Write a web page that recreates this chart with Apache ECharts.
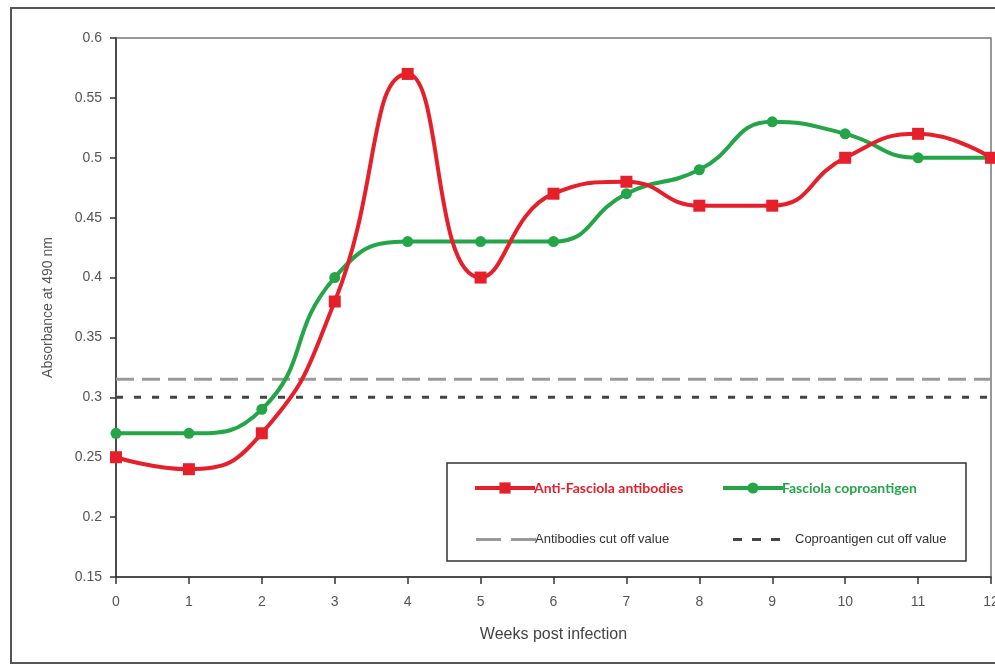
<!DOCTYPE html>
<html>
<head>
<meta charset="utf-8">
<script src="https://cdn.jsdelivr.net/npm/echarts@6/dist/echarts.min.js"></script>
<style>html,body{margin:0;padding:0;background:#fff;}#c{width:995px;height:665px;}</style>
</head>
<body>
<div id="c"></div>
<script>
var weeks = [0,1,2,3,4,5,6,7,8,9,10,11,12];
var antibodies = [0.25,0.24,0.27,0.38,0.57,0.40,0.47,0.48,0.46,0.46,0.50,0.52,0.50];
var coproantigen = [0.27,0.27,0.29,0.40,0.43,0.43,0.43,0.47,0.49,0.53,0.52,0.50,0.50];
var antibodiesCutoff = [0.315,0.315];
var coproantigenCutoff = [0.30,0.30];
var cutoffWeeks = [0,12];
var yTicks = {min:0.15,max:0.6,interval:0.05};

function pairs(xs, ys){ return xs.map(function(x,i){return [x, ys[i]];}); }

var RED = '#e5202b', GREEN = '#24a548';
var abIcon = 'path://M0,0H25V3H0Z M35,0H60V3H35Z';
var coIcon = 'path://M0,0H9V3H0Z M19,0H28V3H19Z M38,0H47V3H38Z';

function oneLegend(left, top, item, font, extra){
  return Object.assign({left:left,top:top,itemWidth:60,itemHeight:14,selectedMode:false,z:10,
    lineStyle:{width:4},
    textStyle:Object.assign({padding:[0,0,0,-6]},font),data:[item]}, extra||{});
}
var bold = {fontFamily:'Lato',fontSize:14,fontWeight:'bold'};
var plain = {fontFamily:'Liberation Sans',fontSize:13,color:'#333'};

var chart = echarts.init(document.getElementById('c'));
chart.setOption({
  animation:false,
  backgroundColor:'#fff',
  graphic:[
    {type:'rect', shape:{x:11,y:8,width:1000,height:655}, style:{fill:'none',stroke:'#555',lineWidth:2}, z:-1},
    {type:'rect', shape:{x:447,y:463,width:519,height:98}, style:{fill:'#fff',stroke:'#333',lineWidth:1.5}, z:5}
  ],
  grid:{left:116,top:38,right:4,bottom:88,containLabel:false,outerBoundsMode:'none',
        show:true,borderColor:'#777',borderWidth:1.5,backgroundColor:'transparent'},
  xAxis:{
    type:'value',min:0,max:12,interval:1,
    name:'Weeks post infection',nameLocation:'middle',nameGap:50,
    nameTextStyle:{fontFamily:'Liberation Sans',fontSize:16,color:'#444'},
    axisLine:{lineStyle:{color:'#333',width:1.5}},
    axisTick:{length:7,lineStyle:{color:'#333',width:1.5}},
    axisLabel:{fontFamily:'Liberation Sans',fontSize:14,color:'#555',margin:18},
    splitLine:{show:false}
  },
  yAxis:{
    type:'value',min:yTicks.min,max:yTicks.max,interval:yTicks.interval,
    name:'Absorbance at 490 nm',nameLocation:'middle',nameGap:61,
    nameTextStyle:{fontFamily:'Liberation Sans',fontSize:14,color:'#555'},
    axisLine:{show:true,lineStyle:{color:'#333',width:1.5}},
    axisTick:{show:true,length:6,lineStyle:{color:'#333',width:1.5}},
    axisLabel:{fontFamily:'Liberation Sans',fontSize:14,color:'#555',margin:14,
      formatter:function(v){return String(parseFloat(v.toFixed(2)));}},
    splitLine:{show:false}
  },
  legend:[
    oneLegend(468,476,{name:'Anti-Fasciola antibodies',textStyle:{color:RED}},bold),
    oneLegend(716,476,{name:'Fasciola coproantigen',textStyle:{color:GREEN}},Object.assign({},bold,{letterSpacing:0.6})),
    oneLegend(471,528,{name:'Antibodies cut off value',icon:abIcon,itemStyle:{color:'#999'}},plain,{itemWidth:60,itemHeight:3}),
    oneLegend(728,528,{name:'Coproantigen cut off value',icon:coIcon,itemStyle:{color:'#444'}},Object.assign({},plain,{padding:[0,0,0,10]}),{itemWidth:47,itemHeight:3})
  ],
  series:[
    {name:'Antibodies cut off value',type:'line',data:pairs(cutoffWeeks,antibodiesCutoff),symbol:'none',
     lineStyle:{color:'#9a9a9a',width:3,type:[18,8]},itemStyle:{color:'#9a9a9a'},z:1},
    {name:'Coproantigen cut off value',type:'line',data:pairs(cutoffWeeks,coproantigenCutoff),symbol:'none',
     lineStyle:{color:'#444',width:3,type:[7,11]},itemStyle:{color:'#444'},z:1},
    {name:'Fasciola coproantigen',type:'line',data:pairs(weeks,coproantigen),smooth:0.5,
     symbol:'circle',symbolSize:11,lineStyle:{color:GREEN,width:4},itemStyle:{color:GREEN},z:3},
    {name:'Anti-Fasciola antibodies',type:'line',data:pairs(weeks,antibodies),smooth:0.5,
     symbol:'rect',symbolSize:12,lineStyle:{color:RED,width:4},itemStyle:{color:RED},z:4}
  ]
});
</script>
</body>
</html>
